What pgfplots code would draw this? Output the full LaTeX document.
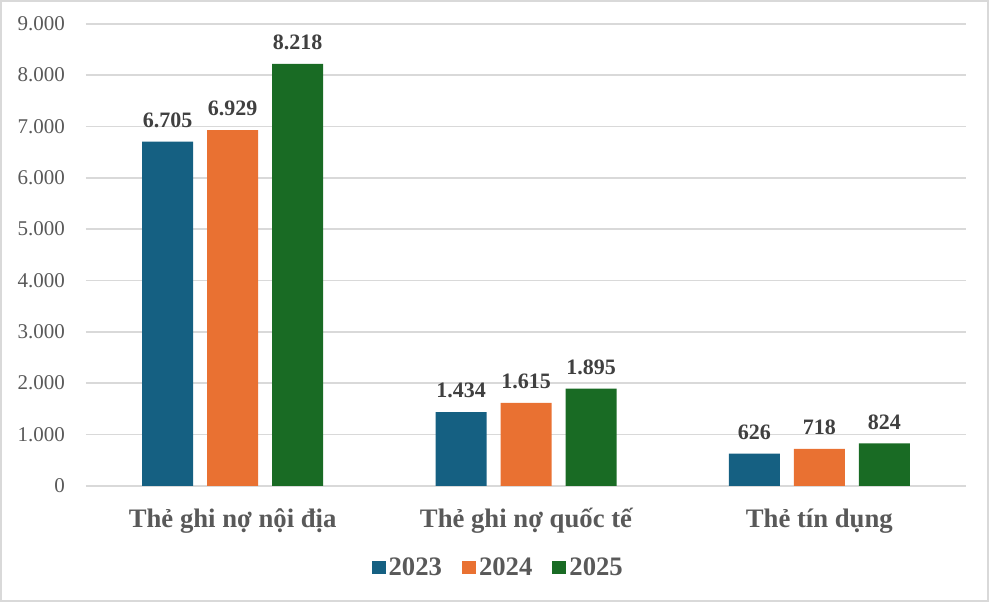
\documentclass[border=0pt]{standalone}
\usepackage{pgfplots}
\pgfplotsset{compat=1.18}
\usepackage{fontspec}
\setmainfont{Liberation Serif}
\definecolor{cblue}{HTML}{156082}
\definecolor{corange}{HTML}{E97132}
\definecolor{cgreen}{HTML}{196B24}
\definecolor{cgrid}{HTML}{D9D9D9}
\definecolor{ctick}{HTML}{595959}
\definecolor{clab}{HTML}{404040}
\begin{document}
\begin{tikzpicture}
\useasboundingbox (0pt,0pt) rectangle (989pt,602pt);
\draw[cgrid, line width=2pt] (1pt,1pt) rectangle (988pt,601pt);
\begin{axis}[
  at={(86pt,116.2pt)}, anchor=south west,
  scale only axis, width=880pt, height=462pt,
  xmin=-0.5, xmax=2.5, ymin=0, ymax=9000,
  enlargelimits=false,
  ybar=14pt, bar width=51pt,
  axis line style={draw=none},
  major tick length=0pt,
  ytick={0,1000,...,9000},
  ymajorgrids, grid style={cgrid, line width=1.5pt},
  xtick={0,1,2},
  xticklabels={Thẻ ghi nợ nội địa, Thẻ ghi nợ quốc tế, Thẻ tín dụng},
  xticklabel style={anchor=base, inner sep=0pt, yshift=-41.5pt, text=ctick, font=\fontsize{26.7}{32}\selectfont\bfseries},
  yticklabel style={anchor=east, inner sep=0pt, xshift=-21pt, text=ctick, font=\fontsize{21}{25}\selectfont},
  /pgf/number format/.cd, 1000 sep={.}, assume math mode=true, /pgfplots/.cd,
  nodes near coords,
  nodes near coords style={font=\fontsize{22}{26}\selectfont\bfseries, text=clab, anchor=south, inner sep=0pt, yshift=14pt},
  legend style={at={(0.469,-0.176)}, anchor=center, draw=none, fill=none, legend columns=3,
    font=\fontsize{26.7}{32}\selectfont\bfseries, text=ctick, inner sep=0pt,
    nodes={inner xsep=3pt},
    /tikz/every even column/.append style={column sep=17pt}},
  legend image code/.code={\fill[#1, draw=none] (0pt,-6.5pt) rectangle (14pt,6.5pt);},
]
\addplot[fill=cblue, draw=none] coordinates {(0,6705) (1,1434) (2,626)};
\addplot[fill=corange, draw=none] coordinates {(0,6929) (1,1615) (2,718)};
\addplot[fill=cgreen, draw=none] coordinates {(0,8218) (1,1895) (2,824)};
\legend{2023,2024,2025}
\end{axis}
\end{tikzpicture}
\end{document}
